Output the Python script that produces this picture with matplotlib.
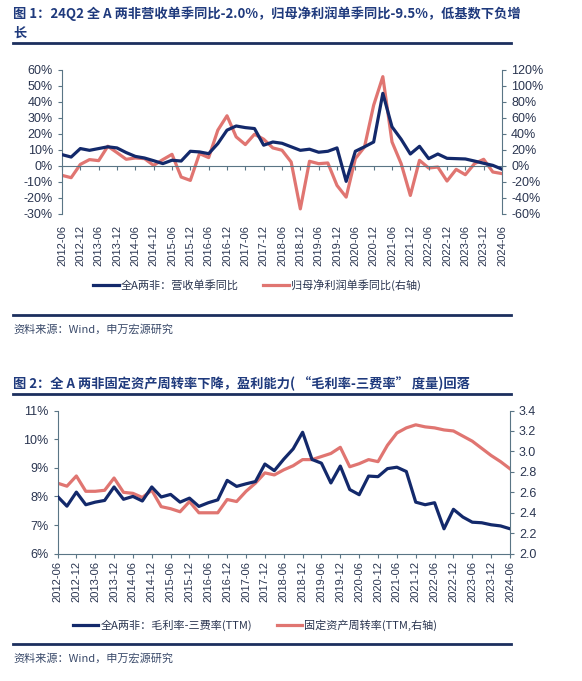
import matplotlib
matplotlib.use("Agg")
import matplotlib.pyplot as plt
from matplotlib.ticker import FuncFormatter

plt.rcParams['font.family'] = ['Liberation Sans', 'Noto Sans CJK SC', 'DejaVu Sans']

# quarterly, 2012-06 .. 2024-06
quarters = ["%d-%02d" % (2012 + (5 + 3 * k) // 12, (5 + 3 * k) % 12 + 1) for k in range(49)]
tick_labels = quarters[::2]

# chart 1: single-quarter YoY, %
rev_yoy = [7.1, 5.6, 10.9, 9.8, 10.9, 12.0, 11.3, 8.4, 6.0, 5.0,
           3.3, 1.5, 3.6, 3.1, 9.2, 8.8, 7.7, 14.0, 22.4, 25.0,
           24.0, 23.4, 13.0, 15.0, 14.2, 12.0, 9.8, 10.5, 8.6, 9.2,
           11.3, -9.6, 9.2, 12.0, 15.0, 45.4, 24.5, 16.7, 7.5, 12.3,
           4.6, 7.5, 4.8, 4.6, 4.4, 3.1, 1.7, 0.4, -2.0]
profit_yoy = [-11.7, -14.6, 2.0, 8.0, 6.7, 24.7, 16.7, 8.4, 10.0, 9.2,
              0.8, 8.0, 14.6, -13.8, -18.0, 15.5, 10.5, 44.8, 62.8, 36.4,
              26.8, 39.7, 33.5, 22.6, 19.7, 5.0, -53.6, 5.9, 2.9, 3.8,
              -24.3, -38.9, 9.2, 23.8, 76.0, 111.7, 30.1, 2.9, -36.8, 7.1,
              -2.5, -1.3, -18.8, -4.2, -10.9, 2.9, 8.4, -7.5, -9.5]

# chart 2: TTM
margin = [8.0, 7.66, 8.15, 7.71, 7.8, 7.86, 8.33, 7.9, 8.0, 7.84,
          8.33, 7.98, 8.07, 7.8, 7.94, 7.65, 7.78, 7.88, 8.56, 8.35,
          8.44, 8.52, 9.13, 8.9, 9.3, 9.66, 10.24, 9.29, 9.16, 8.47,
          9.06, 8.24, 8.06, 8.71, 8.69, 8.97, 9.02, 8.87, 7.8, 7.71,
          7.78, 6.87, 7.55, 7.28, 7.1, 7.08, 7.01, 6.97, 6.87]
turnover = [2.69, 2.66, 2.76, 2.61, 2.61, 2.62, 2.74, 2.60, 2.59, 2.55,
            2.62, 2.46, 2.44, 2.41, 2.51, 2.40, 2.40, 2.40, 2.53, 2.51,
            2.61, 2.69, 2.79, 2.77, 2.82, 2.86, 2.92, 2.92, 2.95, 2.98,
            3.04, 2.85, 2.88, 2.92, 2.90, 3.06, 3.18, 3.23, 3.26, 3.24,
            3.23, 3.21, 3.20, 3.15, 3.10, 3.03, 2.96, 2.90, 2.83]

BLUE = '#13296b'
RED = '#e07571'
NAVY = '#1c2f5e'
TITLE = '#1f3a7d'
SPINE = '#5a7585'
TXT = '#2a3550'
SRC = '#3a4a6a'
CJK = ['Noto Sans CJK SC', 'DejaVu Sans']

W, H = 582, 681
fig = plt.figure(figsize=(W / 100, H / 100), dpi=100)


def fx(px):
    return px / W


def fy(py):
    return 1 - py / H


def header(y_text, lines, y_rule):
    for k, s in enumerate(lines):
        fig.text(fx(13), fy(y_text + k * 19), s, fontsize=9.5, fontweight='bold',
                 color=TITLE, family=CJK, va='center')
    fig.add_artist(plt.Line2D([fx(13), fx(511)], [fy(y_rule), fy(y_rule)], color=NAVY, lw=2))


def footer(y_rule, y_text):
    fig.add_artist(plt.Line2D([fx(13), fx(511)], [fy(y_rule), fy(y_rule)], color=NAVY, lw=2))
    fig.text(fx(13), fy(y_text), "资料来源：Wind，申万宏源研究", fontsize=8, color=SRC,
             family=CJK, va='center')


def style(ax, side):
    for s in ['top', 'bottom', 'left', 'right']:
        ax.spines[s].set_visible(False)
    ax.spines[side].set_visible(True)
    ax.spines[side].set_color(SPINE)
    ax.tick_params(axis='y', colors=SPINE, labelcolor=TXT, labelsize=9, length=3)
    ax.patch.set_visible(False)


x = list(range(len(quarters)))
xt = x[::2]

# ---------- chart 1 ----------
header(14, ["图 1：24Q2 全 A 两非营收单季同比-2.0%，归母净利润单季同比-9.5%，低基数下负增", "长"], 43)

ax1 = fig.add_axes([fx(62), fy(214), fx(502) - fx(62), fy(70) - fy(214)])
ax1b = ax1.twinx()
l1, = ax1.plot(x, rev_yoy, color=BLUE, lw=2.3, zorder=3)
l2, = ax1b.plot(x, profit_yoy, color=RED, lw=2.3, zorder=2)
ax1.set_zorder(ax1b.get_zorder() + 1)
ax1.set_xlim(0, 48)
ax1.set_ylim(-30, 60)
ax1.set_yticks(range(-30, 61, 10))
ax1b.set_ylim(-60, 120)
ax1b.set_yticks(range(-60, 121, 20))
pct = FuncFormatter(lambda v, p: "%d%%" % v)
ax1.yaxis.set_major_formatter(pct)
ax1b.yaxis.set_major_formatter(pct)
style(ax1, 'left')
style(ax1b, 'right')
ax1.spines['bottom'].set_visible(True)
ax1.spines['bottom'].set_position(('data', 0))
ax1.spines['bottom'].set_color(SPINE)
ax1.set_xticks(xt)
ax1.tick_params(axis='x', colors=SPINE, length=3, labelbottom=False)
sec = ax1.secondary_xaxis('bottom')
sec.set_xticks(xt)
sec.set_xticklabels(tick_labels, rotation=90, fontsize=8, color=TXT)
sec.tick_params(length=0, pad=8)
sec.spines['bottom'].set_visible(False)

fig.legend([l1, l2], ["全A两非：营收单季同比", "归母净利润单季同比(右轴)"],
           loc='center', bbox_to_anchor=(fx(257), fy(285)), ncol=2, frameon=False,
           prop={'family': CJK, 'size': 8}, handlelength=2.3, columnspacing=2.2,
           handletextpad=0.2, labelcolor=TXT)
footer(315, 329)

# ---------- chart 2 ----------
header(384, ["图 2：全 A 两非固定资产周转率下降，盈利能力( “毛利率-三费率” 度量)回落"], 394)

ax2 = fig.add_axes([fx(57.5), fy(553.7), fx(510) - fx(57.5), fy(410.5) - fy(553.7)])
ax2b = ax2.twinx()
m1, = ax2.plot(x, margin, color=BLUE, lw=2.3, zorder=3)
m2, = ax2b.plot(x, turnover, color=RED, lw=2.3, zorder=2)
ax2.set_zorder(ax2b.get_zorder() + 1)
ax2.set_xlim(0, 48)
ax2.set_ylim(6, 11)
ax2.set_yticks(range(6, 12))
ax2.yaxis.set_major_formatter(pct)
ax2b.set_ylim(2.0, 3.4)
ax2b.set_yticks([2.0, 2.2, 2.4, 2.6, 2.8, 3.0, 3.2, 3.4])
ax2b.yaxis.set_major_formatter(FuncFormatter(lambda v, p: "%.1f" % v))
style(ax2, 'left')
style(ax2b, 'right')
ax2.spines['bottom'].set_visible(True)
ax2.spines['bottom'].set_color(SPINE)
ax2.set_xticks(xt)
ax2.set_xticklabels(tick_labels, rotation=90, fontsize=8, color=TXT)
ax2.tick_params(axis='x', colors=SPINE, labelcolor=TXT, length=3, pad=2)

fig.legend([m1, m2], ["全A两非：毛利率-三费率(TTM)", "固定资产周转率(TTM,右轴)"],
           loc='center', bbox_to_anchor=(fx(255), fy(625)), ncol=2, frameon=False,
           prop={'family': CJK, 'size': 8}, handlelength=2.3, columnspacing=2.2,
           handletextpad=0.2, labelcolor=TXT)
footer(644, 658)

fig.savefig("out.png", dpi=100, facecolor='white')
